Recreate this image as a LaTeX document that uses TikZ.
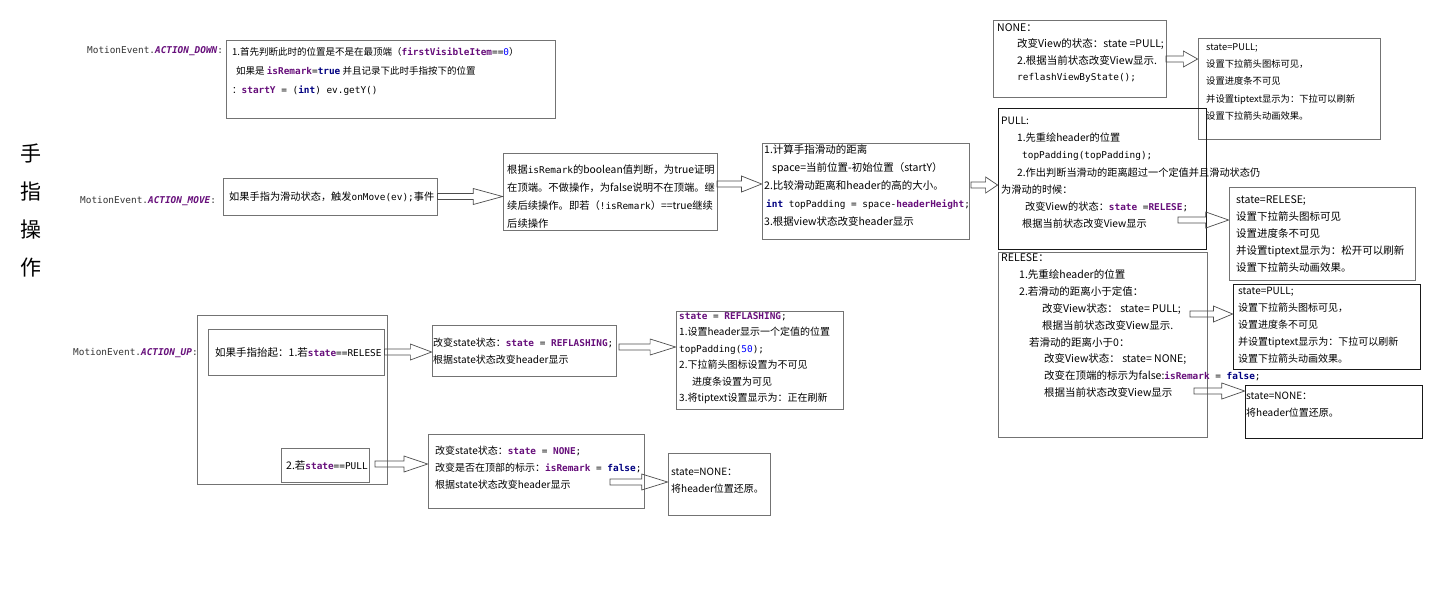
\documentclass[tikz,border=0pt]{standalone}
\usepackage{fontspec}
\setmainfont{Noto Sans CJK SC}
\setmonofont{DejaVu Sans Mono}
\usetikzlibrary{fit, calc}

\definecolor{fieldc}{HTML}{660E7A}
\definecolor{kwc}{HTML}{000080}
\definecolor{numc}{HTML}{0000FF}
\definecolor{labelc}{HTML}{333333}

% code pieces inside the notes
\newcommand{\cd}[1]{{\fontsize{9.4}{12}\selectfont\ttfamily #1}}
\newcommand{\fld}[1]{{\fontsize{9.4}{12}\selectfont\ttfamily\bfseries\color{fieldc}#1}}
\newcommand{\kw}[1]{{\fontsize{9.4}{12}\selectfont\ttfamily\bfseries\color{kwc}#1}}
\newcommand{\num}[1]{{\fontsize{9.4}{12}\selectfont\ttfamily\color{numc}#1}}
\newcommand{\stc}[1]{{\fontsize{9.4}{12}\selectfont\ttfamily\bfseries\itshape\color{fieldc}#1}}
\newcommand{\boxlines}[1]{\begin{tabular}[t]{@{}l@{}}#1\end{tabular}}

\begin{document}
\begin{tikzpicture}[
            x = 1pt, y = -1pt, % pixel grid of the sketch
            line join = miter,
            sz/.style 2 args = {font = \fontsize{#1}{#2}\selectfont} % text size, line distance
        ]

        \tikzstyle{box}=[
        draw = black!55,
        line width = 0.8pt,
        inner sep = 0pt
        ]
        \tikzstyle{darkbox}=[box, draw = black!90]
        \tikzstyle{txt}=[inner sep = 0pt, anchor = base west, sz = {10.5}{17.2}]
        \tikzstyle{lbl}=[inner sep = 0pt, anchor = base west, text = labelc, font = \fontsize{9.4}{12}\selectfont\ttfamily]
        \tikzstyle{hollow}=[
        draw = black!70,
        line width = 0.7pt,
        to path = {let \p1 = (\tikztostart), \p2 = (\tikztotarget), \n1 = {0.45*(\x2-\x1)} in
            (\x1,\y1+3pt) -- (\x2-\n1,\y1+3pt) -- (\x2-\n1,\y1+8pt) -- (\x2,\y1)
            -- (\x2-\n1,\y1-8pt) -- (\x2-\n1,\y1-3pt) -- (\x1,\y1-3pt) -- cycle}
        ]

        \useasboundingbox (0,0) rectangle (1449,598);

        \node[align = center, font = \fontsize{21}{38}\selectfont] (title) at (31,211) {手\\指\\操\\作};

        % ACTION_DOWN
        \node[lbl] (downlbl) at (87,53.5) {MotionEvent.\stc{ACTION\_DOWN}:};
        \node[box, fit = {(226,40) (555,118)}] (down) {};
        \node[txt, sz = {9.5}{19}] (downtxt) at (232,55.5) {\boxlines{
            1.首先判断此时的位置是不是在最顶端（\fld{firstVisibleItem}\cd{==}\num{0}）\\
            \hspace*{4pt}如果是 \fld{isRemark}\cd{=}\kw{true} 并且记录下此时手指按下的位置\\
            ：\fld{startY}\cd{ = (}\kw{int}\cd{) ev.getY()}}};

        % ACTION_MOVE
        \node[lbl] (movelbl) at (80,203.5) {MotionEvent.\stc{ACTION\_MOVE}:};
        \node[box, fit = {(223,178) (437,215)}] (move1) {};
        \node[txt, sz = {10.2}{17.2}] (move1txt) at (229,200) {如果手指为滑动状态，触发\cd{onMove(ev);}事件};
        \node[box, fit = {(503,153) (717,230)}] (move2) {};
        \node[txt, sz = {10.3}{18}] (move2txt) at (507,173.5) {\boxlines{
            根据\cd{isRemark}的boolean值判断，为true证明\\
            在顶端。不做操作，为false说明不在顶端。继\\
            续后续操作。即若（\cd{!isRemark}）==true继续\\
            后续操作}};
        \node[box, fit = {(762,143) (969,239)}] (move3) {};
        \node[txt, sz = {10.5}{18}] (move3txt) at (764,153.5) {\boxlines{
            1.计算手指滑动的距离\\
            \hspace*{8pt}space=当前位置-初始位置（startY）\\
            2.比较滑动距离和header的高的大小。\\
            \hspace*{2pt}\kw{int}\cd{ topPadding = space-}\fld{headerHeight}\cd{;}\\
            3.根据view状态改变header显示}};

        % states while moving
        \node[box, fit = {(993,20) (1166,97)}] (none) {};
        \node[txt, sz = {10.5}{16.3}] (nonetxt) at (997,31.5) {\boxlines{
            NONE：\\
            \hspace*{20pt}改变View的状态：state =PULL;\\
            \hspace*{20pt}2.根据当前状态改变View显示.\\
            \hspace*{20pt}\cd{reflashViewByState();}}};
        \node[box, fit = {(1198,38) (1380,139)}] (pullv) {};
        \node[txt, sz = {9.3}{17.2}] (pullvtxt) at (1206,50.5) {\boxlines{
            state=PULL;\\
            设置下拉箭头图标可见，\\
            设置进度条不可见\\
            并设置tiptext显示为：下拉可以刷新\\
            设置下拉箭头动画效果。}};
        \node[darkbox, fit = {(998,108) (1206,249)}] (pull) {};
        \node[txt, sz = {10.2}{17.2}] (pulltxt) at (1001,124.5) {\boxlines{
            PULL:\\
            \hspace*{16pt}1.先重绘header的位置\\
            \hspace*{21pt}\cd{topPadding(topPadding);}\\
            \hspace*{16pt}2.作出判断当滑动的距离超过一个定值并且滑动状态仍\\
            为滑动的时候：\\
            \hspace*{24pt}改变View的状态：\fld{state}\cd{ =}\fld{RELESE}\cd{;}\\
            \hspace*{21pt}根据当前状态改变View显示}};
        \node[box, fit = {(1229,187) (1415,280)}] (relv) {};
        \node[txt, sz = {10.5}{17}] (relvtxt) at (1236,203.5) {\boxlines{
            state=RELESE;\\
            设置下拉箭头图标可见\\
            设置进度条不可见\\
            并设置tiptext显示为：松开可以刷新\\
            设置下拉箭头动画效果。}};
        \node[box, fit = {(998,252) (1207,437)}] (relese) {};
        \node[txt, sz = {10.5}{16.9}] (relesetxt) at (1001,261.5) {\boxlines{
            RELESE：\\
            \hspace*{18pt}1.先重绘header的位置\\
            \hspace*{18pt}2.若滑动的距离小于定值：\\
            \hspace*{41pt}改变View状态： state= PULL;\\
            \hspace*{41pt}根据当前状态改变View显示.\\
            \hspace*{28pt}若滑动的距离小于0：\\
            \hspace*{43pt}改变View状态： state= NONE;\\
            \hspace*{43pt}改变在顶端的标示为false:\fld{isRemark}\cd{ = }\kw{false}\cd{;}\\
            \hspace*{43pt}根据当前状态改变View显示}};
        \node[darkbox, fit = {(1233,284) (1420,369)}] (pullv2) {};
        \node[txt, sz = {10}{17}] (pullv2txt) at (1238,294.5) {\boxlines{
            state=PULL;\\
            设置下拉箭头图标可见，\\
            设置进度条不可见\\
            并设置tiptext显示为：下拉可以刷新\\
            设置下拉箭头动画效果。}};
        \node[darkbox, fit = {(1245,385) (1422,438)}] (nonev) {};
        \node[txt, sz = {10}{17}] (nonevtxt) at (1246,399.5) {\boxlines{
            state=NONE：\\
            将header位置还原。}};

        % ACTION_UP
        \node[lbl] (uplbl) at (73,355.5) {MotionEvent.\stc{ACTION\_UP}:};
        \node[box, fit = {(197,315) (387,484)}] (up) {};
        \node[box, fit = {(208,329) (384,375)}] (upif) {};
        \node[txt] (upiftxt) at (215,356) {如果手指抬起：1.若\fld{state}\cd{==RELESE}};
        \node[box, fit = {(281,448) (369,482)}] (pullif) {};
        \node[txt] (pulliftxt) at (286,469) {2.若\fld{state}\cd{==PULL}};
        \node[box, fit = {(432,325) (616,376)}] (up1) {};
        \node[txt, sz = {10}{17}] (up1txt) at (433,346.5) {\boxlines{
            改变state状态：\fld{state}\cd{ = }\fld{REFLASHING}\cd{;}\\
            根据state状态改变header显示}};
        \node[box, fit = {(676,311) (843,409)}] (up2) {};
        \node[txt, sz = {10}{16.4}] (up2txt) at (679,319.5) {\boxlines{
            \fld{state}\cd{ = }\fld{REFLASHING}\cd{;}\\
            1.设置header显示一个定值的位置\\
            \cd{topPadding(}\num{50}\cd{);}\\
            2.下拉箭头图标设置为不可见\\
            \hspace*{13pt}进度条设置为可见\\
            3.将tiptext设置显示为：正在刷新}};
        \node[box, fit = {(428,434) (644,508)}] (up3) {};
        \node[txt, sz = {10}{17}] (up3txt) at (435,454.5) {\boxlines{
            改变state状态：\fld{state}\cd{ = }\fld{NONE}\cd{;}\\
            改变是否在顶部的标示：\fld{isRemark}\cd{ = }\kw{false}\cd{;}\\
            根据state状态改变header显示}};
        \node[box, fit = {(668,453) (770,515)}] (up4) {};
        \node[txt, sz = {10}{17}] (up4txt) at (671,475.5) {\boxlines{
            state=NONE：\\
            将header位置还原。}};

        % free arrow tails
        \coordinate (m2out) at (717,184);
        \coordinate (m3out) at (971,185);
        \coordinate (noneout) at (1166,59);
        \coordinate (pullout) at (1178,220);
        \coordinate (relout1) at (1190,314);
        \coordinate (relout2) at (1194,391);
        \coordinate (up1out) at (619,347);
        \coordinate (pullifout) at (375,464);
        \coordinate (up3out) at (610,482);

        \draw[hollow] (move1.east) to (move2.west);
        \draw[hollow] (m2out) to (move3.west);
        \draw[hollow] (m3out) to (pull.west);
        \draw[hollow] (noneout) to (pullv.west);
        \draw[hollow] (pullout) to (relv.west);
        \draw[hollow] (relout1) to (pullv2.west);
        \draw[hollow] (relout2) to (nonev.west);
        \draw[hollow] (upif.east) to (up1.west);
        \draw[hollow] (up1out) to (up2.west);
        \draw[hollow] (pullifout) to (up3.west);
        \draw[hollow] (up3out) to (up4.west);
    \end{tikzpicture}
\end{document}
